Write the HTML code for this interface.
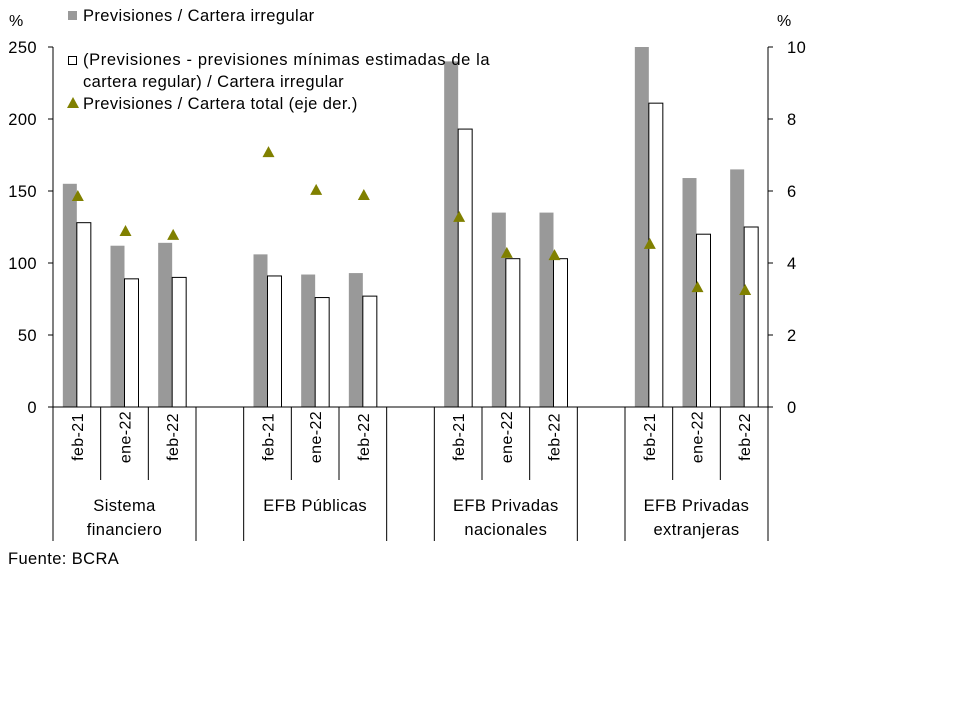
<!DOCTYPE html>
<html><head><meta charset="utf-8"><style>
body{margin:0;background:#fff;}
svg{font-family:"Liberation Sans",Arial,sans-serif;letter-spacing:0.4px;}
</style></head><body>
<svg id="chart" width="960" height="720">
<g id="g"></g>
</svg>
<script>
const groups=["Sistema financiero","EFB Públicas","EFB Privadas nacionales","EFB Privadas extranjeras"];
const groupLines=[["Sistema","financiero"],["EFB Públicas"],["EFB Privadas","nacionales"],["EFB Privadas","extranjeras"]];
const periods=["feb-21","ene-22","feb-22"];
const grossRatio=[155,112,114,106,92,93,240,135,135,250,159,165];
const netRatio=[128,89,90,91,76,77,193,103,103,211,120,125];
const totalRatio=[5.86,4.89,4.78,7.08,6.03,5.89,5.28,4.28,4.22,4.53,3.33,3.25];
const leftTicks=[0,50,100,150,200,250];
const rightTicks=[0,2,4,6,8,10];

const NS="http://www.w3.org/2000/svg";
const g=document.getElementById('g');
function el(t,a,txt){const e=document.createElementNS(NS,t);for(const k in a)e.setAttribute(k,a[k]);if(txt!=null)e.textContent=txt;g.appendChild(e);return e;}
const x0=53,x1=768,slotW=(x1-x0)/15,yB=407,yT=47;
const yL=v=>yB-(v/250)*(yB-yT);
const yR=v=>yB-(v/10)*(yB-yT);
const slot=i=>Math.floor(i/3)*4+(i%3);
const cx=i=>x0+(slot(i)+0.5)*slotW;

let e=el('line',{x1:x0,y1:yT,x2:x0,y2:yB,stroke:'#000'});

e=el('line',{x1:x1,y1:yT,x2:x1,y2:yB,stroke:'#000'});

leftTicks.forEach(v=>{
 el('line',{x1:x0-5,y1:yL(v),x2:x0,y2:yL(v),stroke:'#000'});
 const t=el('text',{x:37,y:yL(v)+6,'text-anchor':'end','font-size':16.5},v);
 
});
rightTicks.forEach(v=>{
 el('line',{x1:x1,y1:yR(v),x2:x1+5,y2:yR(v),stroke:'#000'});
 const t=el('text',{x:787,y:yR(v)+6,'font-size':16.5},v);
 
});
e=el('text',{x:9,y:26,'font-size':16},'%');
e=el('text',{x:777,y:26,'font-size':16},'%');

grossRatio.forEach((v,i)=>{
 const r=el('rect',{x:cx(i)-14,y:yL(v),width:14,height:yB-yL(v),fill:'#999'});
 
});
netRatio.forEach((v,i)=>{
 const r=el('rect',{x:cx(i),y:yL(v),width:14,height:yB-yL(v),fill:'#fff',stroke:'#000','stroke-width':1});
 
});
el('line',{x1:x0,y1:yB,x2:x1,y2:yB,stroke:'#000'});
totalRatio.forEach((v,i)=>{
 const x=cx(i)+1,y=yR(v);
 const p=el('polygon',{points:`${x-6},${y+5} ${x+6},${y+5} ${x},${y-6}`,fill:'#808000'});
 
});

for(let s=0;s<=15;s++){
 const x=x0+s*slotW;
 const isGroupEdge=(s%4===0)||(s%4===3);
 const inner=(s%4===1||s%4===2);
 if(isGroupEdge||s===15) el('line',{x1:x,y1:yB,x2:x,y2:541,stroke:'#000'});
 else if(inner) el('line',{x1:x,y1:yB,x2:x,y2:480,stroke:'#000'});
}
for(let i=0;i<12;i++){
 const x=cx(i),y=437;
 const t=el('text',{x:x+6,y:y,'font-size':16,'text-anchor':'middle',transform:`rotate(-90 ${x+6} ${y})`},periods[i%3]);
 
}
groupLines.forEach((ls,gi)=>{
 const x=x0+(gi*4+1.5)*slotW;
 ls.forEach((s,j)=>{
  const t=el('text',{x:x,y:511+j*24,'font-size':16.5,'text-anchor':'middle'},s);
  
 });
});
e=el('text',{x:8,y:564,'font-size':16.5},'Fuente: BCRA');

e=el('rect',{x:68,y:11,width:9,height:9,fill:'#999'});
e=el('text',{x:83,y:21,'font-size':16.5},'Previsiones / Cartera irregular');
e=el('rect',{x:68.5,y:56.5,width:8,height:8,fill:'#fff',stroke:'#000'});
e=el('text',{x:83,y:65,'font-size':16.5,textLength:407,lengthAdjust:'spacing'},'(Previsiones - previsiones mínimas estimadas de la');
e=el('text',{x:83,y:87,'font-size':16.5},'cartera regular) / Cartera irregular');
e=el('polygon',{points:'67,108 79,108 73,97',fill:'#808000'});
e=el('text',{x:83,y:109,'font-size':16.5},'Previsiones / Cartera total (eje der.)');
</script>
</body></html>
